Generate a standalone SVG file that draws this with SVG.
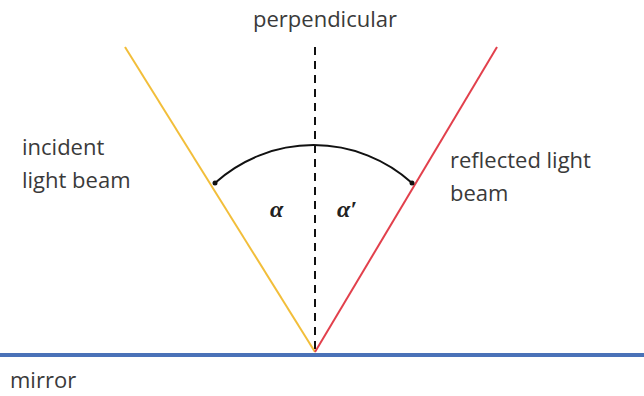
<svg xmlns="http://www.w3.org/2000/svg" width="644" height="396" viewBox="0 0 644 396">
<style>
.t{font-family:"Open Sans","Liberation Sans",sans-serif;font-size:22px;fill:#3a3a3a}
.g{font-family:"Liberation Serif",serif;font-size:24px;font-style:italic;font-weight:bold;fill:#222}
</style>
<rect width="644" height="396" fill="#fff"/>
<g id="connectors">
<line id="mirror-line" x1="0" y1="355" x2="644" y2="355" stroke="#4A72B8" stroke-width="4"/>
<line id="perp-line" x1="315" y1="47" x2="315" y2="352" stroke="#111" stroke-width="2" stroke-dasharray="8,6"/>
<line id="incident-beam" x1="125" y1="47" x2="315" y2="352" stroke="#F2BE3A" stroke-width="2"/>
<line id="reflected-beam" x1="497" y1="47" x2="315" y2="352" stroke="#E2404C" stroke-width="2"/>
<path id="angle-arc" d="M215,183 A147,147 0 0 1 412,183" fill="none" stroke="#111" stroke-width="2"/>
<circle cx="215" cy="183" r="2.5" fill="#111"/>
<circle cx="412" cy="183" r="2.5" fill="#111"/>
</g>
<g id="perpendicular"><text class="t" x="325" y="27" text-anchor="middle">perpendicular</text></g>
<g id="incident"><text class="t" x="22" y="155">incident</text><text class="t" x="22" y="188">light beam</text></g>
<g id="reflected"><text class="t" x="450" y="168">reflected light</text><text class="t" x="450" y="201">beam</text></g>
<g id="mirror"><text class="t" x="10" y="388">mirror</text></g>
<g id="alpha"><text class="g" x="270" y="217">α</text></g>
<g id="alpha-prime"><text class="g" x="337" y="217">α′</text></g>
</svg>
